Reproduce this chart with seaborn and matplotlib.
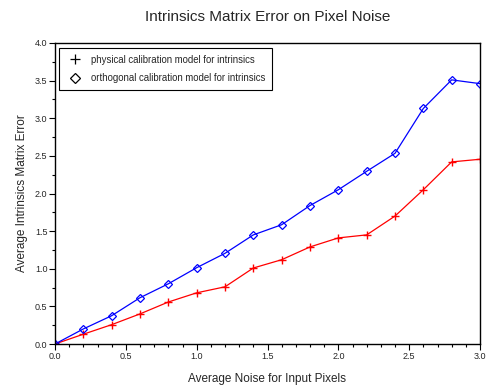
import matplotlib
matplotlib.use("Agg")
import matplotlib.pyplot as plt
import seaborn as sns
import pandas as pd
from matplotlib.lines import Line2D
from matplotlib.ticker import MultipleLocator, FormatStrFormatter

noise = [0.0, 0.2, 0.4, 0.6, 0.8, 1.0, 1.2, 1.4, 1.6, 1.8, 2.0, 2.2, 2.4, 2.6, 2.8, 3.0]
physical = [0.0, 0.13, 0.257, 0.40, 0.558, 0.68, 0.76, 1.01, 1.12, 1.29, 1.41, 1.45, 1.70, 2.05, 2.42, 2.455]
orthogonal = [0.0, 0.20, 0.376, 0.615, 0.80, 1.014, 1.205, 1.45, 1.585, 1.84, 2.05, 2.295, 2.534, 3.13, 3.51, 3.46]
labels = ["physical calibration model for intrinsics", "orthogonal calibration model for intrinsics"]

sns.set_style("ticks")
plt.rcParams['font.family'] = ['Liberation Sans', 'DejaVu Sans']

fig = plt.figure(figsize=(4.88, 3.87), dpi=100)
ax = fig.add_axes([55/488, 43/387, 425/488, 301/387])

df = pd.DataFrame({"x": noise, "physical": physical, "orthogonal": orthogonal})
sns.lineplot(data=df, x="x", y="physical", ax=ax, color="#ff0000", marker="+",
             markersize=6, markeredgecolor="#ff0000", markeredgewidth=1.0, linewidth=0.9)
sns.lineplot(data=df, x="x", y="orthogonal", ax=ax, color="#0000ff", marker="D",
             markersize=4.5, markerfacecolor="none", markeredgecolor="#0000ff",
             markeredgewidth=0.9, linewidth=0.9)

ax.set_xlim(0, 3.0)
ax.set_ylim(0, 4.0)
ax.xaxis.set_major_locator(MultipleLocator(0.5))
ax.xaxis.set_minor_locator(MultipleLocator(0.1))
ax.yaxis.set_major_locator(MultipleLocator(0.5))
ax.yaxis.set_minor_locator(MultipleLocator(0.25))
ax.xaxis.set_major_formatter(FormatStrFormatter('%.1f'))
ax.yaxis.set_major_formatter(FormatStrFormatter('%.1f'))
ax.tick_params(axis='both', which='major', length=4, width=0.8, labelsize=6.5, direction='out', color='black', pad=1.5)
ax.tick_params(axis='both', which='minor', length=2.5, width=0.8, direction='out', color='black')
for s in ax.spines.values():
    s.set_visible(True)
    s.set_color('black')
    s.set_linewidth(1.0)

ax.set_xlabel("Average Noise for Input Pixels", fontsize=8.5, labelpad=9)
ax.set_ylabel("Average Intrinsics Matrix Error", fontsize=8.5, labelpad=5)
fig.suptitle("Intrinsics Matrix Error on Pixel Noise", fontsize=11, x=(55+480)/2/488, y=1-10/387, va='top')

handles = [Line2D([], [], color='black', marker='+', linestyle='none', markersize=7, markeredgewidth=0.9),
           Line2D([], [], color='black', marker='D', linestyle='none', markersize=5,
                  markerfacecolor='none', markeredgewidth=0.9)]
leg = ax.legend(handles, labels, loc='upper left', fontsize=6.9, frameon=True, fancybox=False,
                edgecolor='black', framealpha=1, borderpad=0.7, handletextpad=0.6, labelspacing=0.9,
                borderaxespad=0, bbox_to_anchor=(4/425, 1-5/301))
leg.get_frame().set_linewidth(0.8)

fig.savefig("out.png", dpi=100)
